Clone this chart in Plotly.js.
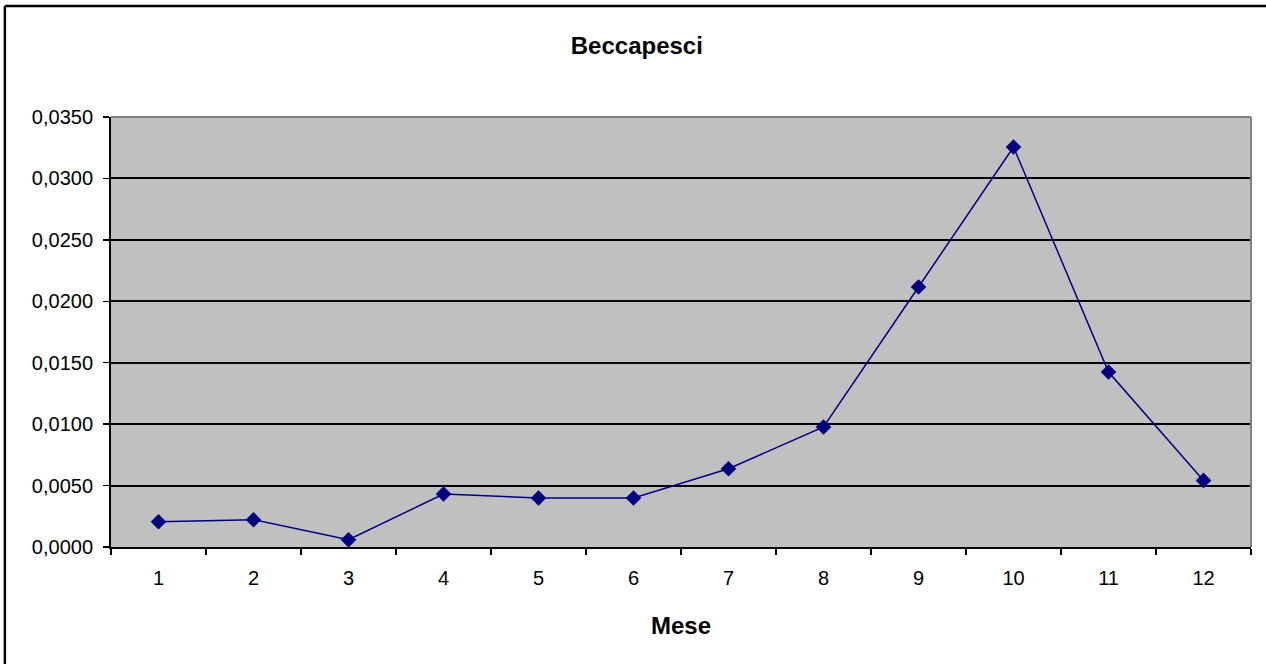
<!DOCTYPE html>
<html>
<head>
<meta charset="utf-8">
<script src="https://cdn.plot.ly/plotly-3.0.1.min.js"></script>
<style>html,body{margin:0;padding:0;background:#fff;}#chart{width:1266px;height:664px;}</style>
</head>
<body>
<div id="chart"></div>
<script>
const months = ['1','2','3','4','5','6','7','8','9','10','11','12'];
const values = [0.00206, 0.00222, 0.00059, 0.00431, 0.00399, 0.00399, 0.00637, 0.00977, 0.02116, 0.03256, 0.01424, 0.00542];
const yTicks = [0, 0.005, 0.010, 0.015, 0.020, 0.025, 0.030, 0.035];
const chartTitle = 'Beccapesci';
const xTitle = 'Mese';

const trace = {
  x: months, y: values, type: 'scatter', mode: 'lines+markers',
  line: {color: '#000080', width: 1.5},
  marker: {symbol: 'diamond', size: 12, color: '#000080'},
  showlegend: false, hoverinfo: 'skip'
};

const layout = {
  width: 1266, height: 664,
  margin: {l: 111, r: 15, t: 117, b: 117},
  paper_bgcolor: '#ffffff', plot_bgcolor: '#c0c0c0',
  separators: ',.',
  font: {family: 'Liberation Sans, Arial, sans-serif', color: '#000'},
  title: {text: '<b>' + chartTitle + '</b>', x: 0.503, xref: 'container', xanchor: 'center', y: 1 - 46/664, yref: 'container', yanchor: 'middle', font: {size: 24, color: '#000'}},
  xaxis: {
    type: 'category', tickson: 'boundaries', ticks: 'outside', ticklen: 6, tickwidth: 1.5, tickcolor: '#000',
    showline: true, linecolor: '#000', linewidth: 2, showgrid: false, zeroline: false,
    tickfont: {size: 20}, range: [-0.5, 11.5], ticklabelstandoff: 12,
    title: {text: '<b>' + xTitle + '</b>', font: {size: 24}, standoff: 29}
  },
  yaxis: {
    range: [0, 0.035], tickvals: yTicks, tickformat: '.4f', ticks: 'outside', ticklen: 6, tickwidth: 1.5, tickcolor: '#000',
    showline: true, linecolor: '#000', linewidth: 2, showgrid: true, gridcolor: '#000', gridwidth: 2, zeroline: false,
    tickfont: {size: 20}, ticklabelstandoff: 6
  },
  shapes: [
    {type: 'line', xref: 'paper', yref: 'paper', x0: 0, x1: 1, y0: 1, y1: 1, line: {color: '#808080', width: 2}, layer: 'above'},
    {type: 'line', xref: 'paper', yref: 'paper', x0: 1, x1: 1, y0: 0, y1: 1, line: {color: '#808080', width: 2}, layer: 'above'},
    {type: 'line', xref: 'paper', yref: 'paper', x0: -0.0931, x1: 1.02, y0: 1 + (117-6)/430, y1: 1 + (117-6)/430, line: {color: '#000', width: 2.5}},
    {type: 'line', xref: 'paper', yref: 'paper', x0: -0.0931, x1: -0.0931, y0: -0.3, y1: 1 + (117-6)/430, line: {color: '#000', width: 2.5}}
  ]
};

Plotly.newPlot('chart', [trace], layout, {staticPlot: true, displayModeBar: false});
</script>
</body>
</html>
